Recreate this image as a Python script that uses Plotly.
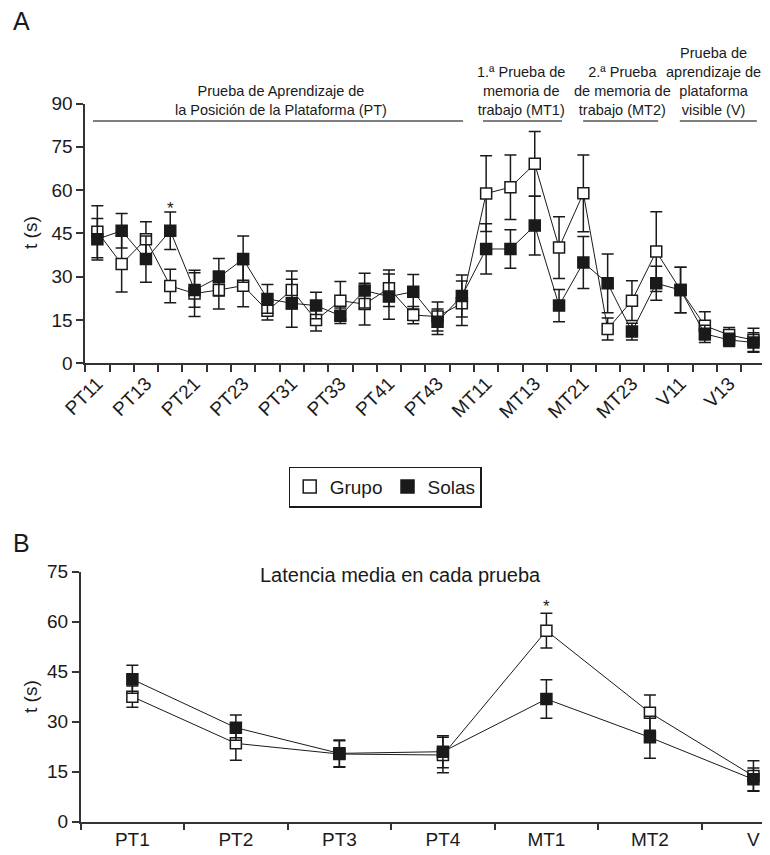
import plotly.graph_objects as go

# ---------------- Panel A data ----------------
sessions = ["PT11", "PT12", "PT13", "PT14", "PT21", "PT22", "PT23", "PT24",
            "PT31", "PT32", "PT33", "PT34", "PT41", "PT42", "PT43", "PT44",
            "MT11", "MT12", "MT13", "MT14", "MT21", "MT22", "MT23", "MT24",
            "V11", "V12", "V13", "V14"]
grupo_a = [45.6, 34.4, 43.0, 26.8, 24.2, 25.4, 26.9, 18.2,
           25.4, 15.0, 21.7, 20.5, 26.0, 16.7, 16.2, 20.8,
           58.8, 61.0, 69.1, 40.1, 58.9, 11.9, 21.7, 38.7,
           25.4, 13.0, 9.8, 8.1]
grupo_a_err = [9.0, 9.7, 6.0, 5.8, 8.0, 6.6, 7.3, 3.2,
               6.6, 3.8, 6.6, 7.2, 6.3, 3.0, 5.0, 7.7,
               13.1, 11.2, 11.2, 10.7, 13.3, 3.8, 6.9, 13.8,
               7.9, 4.9, 2.6, 4.0]
solas_a = [43.0, 45.9, 36.1, 45.9, 25.4, 29.8, 36.1, 22.3,
           20.8, 20.0, 16.5, 25.2, 23.1, 24.8, 14.4, 23.3,
           39.6, 39.6, 47.7, 20.0, 34.9, 27.7, 11.0, 27.7,
           25.4, 10.2, 8.1, 7.2]
solas_a_err = [7.2, 6.0, 8.0, 6.5, 6.0, 6.5, 8.0, 5.0,
               8.3, 4.6, 2.7, 6.0, 7.8, 6.0, 4.4, 7.3,
               8.7, 6.7, 10.2, 5.6, 9.0, 10.2, 2.9, 5.9,
               7.9, 3.0, 2.3, 3.4]
yticks_a = [0, 15, 30, 45, 60, 75, 90]

# ---------------- Panel B data ----------------
tests = ["PT1", "PT2", "PT3", "PT4", "MT1", "MT2", "V"]
grupo_b = [37.5, 23.5, 20.3, 20.0, 57.3, 32.7, 13.7]
grupo_b_err = [3.2, 5.1, 4.0, 5.3, 5.2, 5.3, 4.6]
solas_b = [42.7, 28.2, 20.5, 21.0, 36.8, 25.3, 12.7]
solas_b_err = [4.2, 3.8, 4.0, 4.8, 5.8, 6.3, 3.4]
yticks_b = [0, 15, 30, 45, 60, 75]

# group headers for panel A
headers = ["Prueba de Aprendizaje de<br>la Posición de la Plataforma (PT)",
           "1.ª Prueba de<br>memoria de<br>trabajo (MT1)",
           "2.ª Prueba<br>de memoria de<br>trabajo (MT2)",
           "Prueba de<br>aprendizaje de<br>plataforma<br>visible (V)"]

FONT = "Liberation Sans, Arial, sans-serif"
INK = "#1a1a1a"
OFF = 8                      # page body margin
W, H = 770 - OFF, 855 - OFF


def py(p):
    return (H - (p - OFF)) / H


def px_x(p):
    return (p - OFF) / W


fig = go.Figure()


def add_series(x, y, err, filled, xa, ya):
    fig.add_trace(go.Scatter(
        x=x, y=y, mode="lines+markers", xaxis=xa, yaxis=ya, showlegend=False,
        line=dict(color=INK, width=1),
        marker=dict(symbol="square", size=11,
                    color=INK if filled else "white",
                    line=dict(color=INK, width=1.5)),
        error_y=dict(type="data", array=err, visible=True, color=INK,
                     thickness=1.5, width=6),
        cliponaxis=False,
    ))


add_series(sessions, grupo_a, grupo_a_err, False, "x", "y")
add_series(sessions, solas_a, solas_a_err, True, "x", "y")
add_series(tests, grupo_b, grupo_b_err, False, "x2", "y2")
add_series(tests, solas_b, solas_b_err, True, "x2", "y2")

# legend-only entries
fig.add_trace(go.Scatter(x=[None], y=[None], mode="markers", name="Grupo",
                         marker=dict(symbol="square", size=13, color="white",
                                     line=dict(color=INK, width=1.5))))
fig.add_trace(go.Scatter(x=[None], y=[None], mode="markers", name="Solas",
                         marker=dict(symbol="square", size=13, color=INK,
                                     line=dict(color=INK, width=1.5))))

axis_common = dict(showgrid=False, zeroline=False, showline=True,
                   linecolor="#333", linewidth=1.5, ticks="outside",
                   ticklen=7, tickwidth=1.5, tickcolor="#333",
                   tickfont=dict(family=FONT, size=19, color=INK),
                   automargin=False)

fig.update_layout(
    width=W, height=H, template="none",
    margin=dict(l=0, r=0, t=0, b=0),
    paper_bgcolor="white", plot_bgcolor="rgba(0,0,0,0)",
    font=dict(family=FONT, color=INK),
    xaxis=dict(axis_common, type="category", categoryorder="array",
               categoryarray=sessions, range=[-0.5, 27.5],
               domain=[px_x(85.2), px_x(765.6)], anchor="y",
               tickmode="array", tickvals=sessions,
               ticktext=[s if i % 2 == 0 else "" for i, s in enumerate(sessions)],
               tickson="boundaries", tickangle=-45),
    yaxis=dict(axis_common, range=[0, 90], domain=[py(363.3), py(103.5)],
               anchor="x", tickmode="array", tickvals=yticks_a),
    xaxis2=dict(axis_common, type="category", categoryorder="array",
                categoryarray=tests, range=[-0.5, 6.16],
                domain=[px_x(80.6), 1.0], anchor="y2",
                tickmode="array", tickvals=tests, ticktext=tests,
                tickson="boundaries"),
    yaxis2=dict(axis_common, range=[0, 75], domain=[py(821.7), py(571.7)],
                anchor="x2", tickmode="array", tickvals=yticks_b),
    legend=dict(orientation="h", x=px_x(385), xanchor="center", y=py(487),
                yanchor="middle", bordercolor=INK, borderwidth=1.2,
                font=dict(family=FONT, size=19, color=INK),
                itemwidth=30, tracegroupgap=0, bgcolor="white"),
)


def paper_text(text, x, y, size, angle=0):
    return dict(text=text, x=px_x(x), y=py(y), xref="paper", yref="paper",
                xanchor="center", yanchor="middle", textangle=angle,
                showarrow=False, font=dict(size=size, family=FONT, color=INK))


annotations = [
    paper_text("A", 21, 21, 25),
    paper_text("B", 21, 543, 25),
    paper_text("t (s)", 30, 233, 19, -90),
    paper_text("t (s)", 30, 697, 19, -90),
    paper_text("Latencia media en cada prueba", 400, 575, 20),
    dict(text="*", x="PT14", y=53.5, xref="x", yref="y", showarrow=False,
         xanchor="center", yanchor="middle",
         font=dict(size=17, family=FONT, color=INK)),
    dict(text="*", x="MT1", y=64.5, xref="x2", yref="y2", showarrow=False,
         xanchor="center", yanchor="middle",
         font=dict(size=17, family=FONT, color=INK)),
]

header_x = [7.54, 17.43, 21.61, 25.35]
line_spans = [(-0.18, 15.05), (15.87, 19.12), (19.99, 23.08), (23.97, 27.14)]
for txt, hx in zip(headers, header_x):
    annotations.append(dict(text=txt, x=hx, y=py(120), xref="x", yref="paper",
                            xanchor="center", yanchor="bottom", showarrow=False,
                            align="center",
                            font=dict(size=14.5, family=FONT, color=INK)))
fig.update_layout(annotations=annotations)

for x0, x1 in line_spans:
    fig.add_shape(type="line", x0=x0, x1=x1, y0=py(121), y1=py(121),
                  xref="x", yref="paper", line=dict(color="#555", width=1.5))

fig.write_html("out.html")
